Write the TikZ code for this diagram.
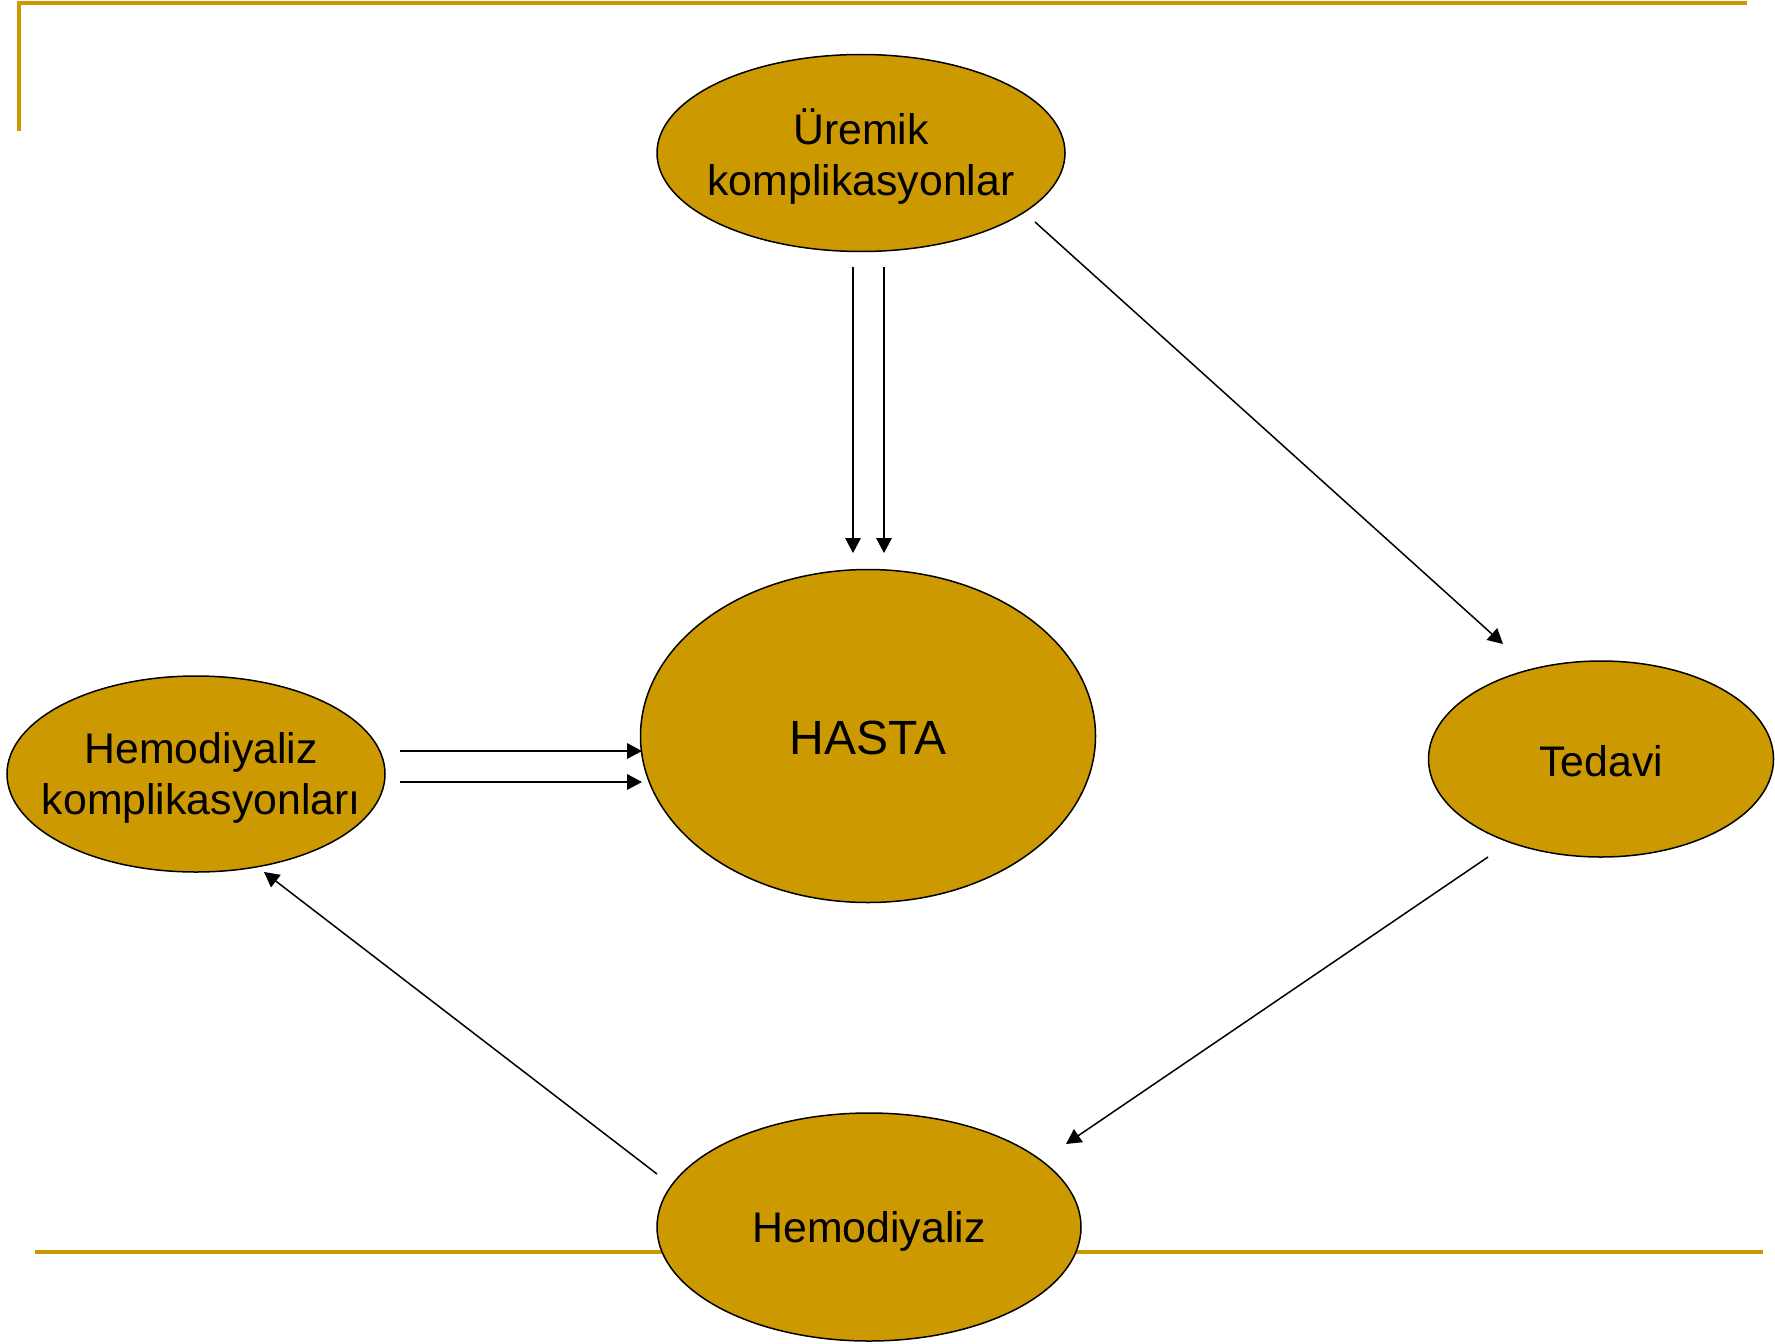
\documentclass[tikz,border=0pt]{standalone}
\usepackage{fontspec}
\setmainfont{Liberation Sans}
\usetikzlibrary{arrows.meta,shapes.geometric}
\definecolor{gold}{HTML}{CC9900}
\begin{document}
\begin{tikzpicture}[x=0.5pt,y=-0.5pt,
  bubble/.style={ellipse,draw=black,line width=0.75pt,fill=gold,inner sep=0pt},
  lbl/.style={align=center,font=\fontsize{21.4}{25.5}\selectfont,inner sep=0pt,yshift=-2pt},
  conn/.style={line width=0.75pt,-{Triangle[length=7.5pt,width=7.8pt]}},
  frameline/.style={draw=gold,line width=2.2pt}]
\useasboundingbox (0,0) rectangle (1775,1343);
% frame lines
\draw[frameline] (19,131) -- (19,3.3) -- (1747,3.3);
\draw[frameline] (35,1252) -- (1763,1252);
% ellipses
\node[bubble,minimum width=204pt,minimum height=98.5pt] (urem) at (861,153) {};
\node[bubble,minimum width=227.5pt,minimum height=166.5pt] (hasta) at (868,736) {};
\node[bubble,minimum width=189pt,minimum height=98pt] (hk) at (196,774) {};
\node[bubble,minimum width=172.5pt,minimum height=98pt] (ted) at (1601,759) {};
\node[bubble,minimum width=212pt,minimum height=114pt] (hemo) at (869,1227) {};
% labels
\node[lbl] (uremT) at (urem) {Üremik\\komplikasyonlar};
\node[lbl,font=\fontsize{24}{28}\selectfont,yshift=1pt] (hastaT) at (hasta) {HASTA};
\node[lbl] (hkT) at ([xshift=2.6pt]hk) {Hemodiyaliz\\komplikasyonları};
\node[lbl,yshift=1pt] (tedT) at (ted) {Tedavi};
\node[lbl] (hemoT) at (hemo) {Hemodiyaliz};
% connector ends
\coordinate (v1s) at (853,267); \coordinate (v1e) at (853,553);
\coordinate (v2s) at (884,267); \coordinate (v2e) at (884,553);
\coordinate (h1s) at (400,751); \coordinate (h1e) at (642,751);
\coordinate (h2s) at (400,782); \coordinate (h2e) at (642,782);
\coordinate (d1s) at (1035,222); \coordinate (d1e) at (1503,644);
\coordinate (d2s) at (1488,857); \coordinate (d2e) at (1066,1144);
\coordinate (d3s) at (657,1174); \coordinate (d3e) at (264,872);
% connectors
\draw[conn] (v1s) -- (v1e);
\draw[conn] (v2s) -- (v2e);
\draw[conn] (h1s) -- (h1e);
\draw[conn] (h2s) -- (h2e);
\draw[conn] (d1s) -- (d1e);
\draw[conn] (d2s) -- (d2e);
\draw[conn] (d3s) -- (d3e);
\end{tikzpicture}
\end{document}
